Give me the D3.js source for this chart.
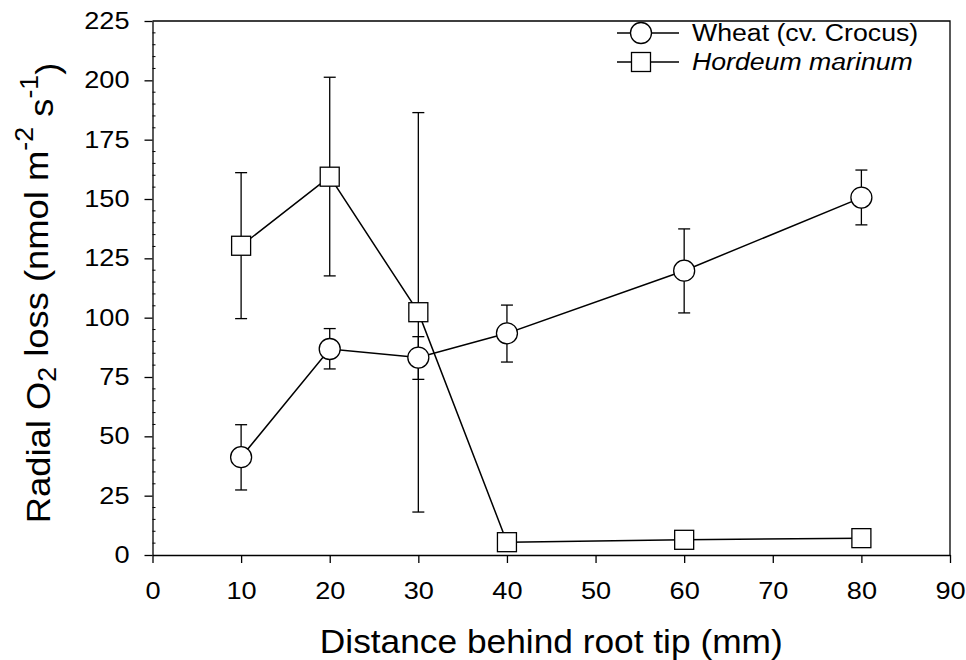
<!DOCTYPE html>
<meta charset="utf-8">
<style>
    body {
        margin: 0;
        padding: 0;
        background: #fff;
        font-family: "Liberation Sans", Arial, sans-serif;
    }

    svg {
        display: block;
    }

    .axis path,
    .axis line {
        stroke: #000;
        stroke-width: 1.3px;
    }

    .axis text {
        font-family: "Liberation Sans", Arial, sans-serif;
        font-size: 23px;
        fill: #000;
    }
</style>
<svg width="966" height="660"></svg>
<script src="https://cdnjs.cloudflare.com/ajax/libs/d3/7.8.5/d3.min.js"></script>
<script>
    // values
    var distance = [10, 20, 30, 40, 60, 80];
    var wheatMean = [41.2, 86.8, 83.2, 93.4, 119.8, 150.6];
    var wheatLow = [27.4, 78.4, 74.0, 81.3, 102.0, 139.1];
    var wheatHigh = [54.9, 95.4, 92.0, 105.3, 137.4, 162.2];
    var hordeumMean = [130.3, 159.4, 102.3, 5.4, 6.4, 7.1];
    var hordeumLow = [99.6, 117.6, 18.1, null, null, null];
    var hordeumHigh = [161.1, 201.3, 186.4, null, null, null];

    var xTicks = [0, 10, 20, 30, 40, 50, 60, 70, 80, 90];
    var yTicks = [0, 25, 50, 75, 100, 125, 150, 175, 200, 225];
    var yMinor = d3.range(0, 226, 5).filter(function(v) { return v % 25 != 0; });

    var svg = d3.select("svg");
    var plotL = 152.5, plotR = 950, plotT = 21, plotB = 555;
    var stretch = 1.18; // the original type is a little wider than Liberation Sans

    var x = d3.scaleLinear().domain([0, 90]).range([plotL, plotR]);
    var y = d3.scaleLinear().domain([0, 225]).range([plotB, plotT]);

    // frame (top + right)
    svg.append("path")
        .attr("d", "M" + plotL + "," + plotT + "H" + plotR + "V" + plotB)
        .attr("fill", "none")
        .attr("stroke", "#000")
        .attr("stroke-width", 1.3);

    var xAxis = svg.append("g")
        .attr("class", "axis")
        .attr("transform", "translate(0," + plotB + ")")
        .call(d3.axisBottom(x).tickValues(xTicks).tickSize(8).tickSizeOuter(0).tickPadding(20));
    xAxis.selectAll("text").attr("transform", "scale(" + stretch + ",1)");

    var yAxis = svg.append("g")
        .attr("class", "axis")
        .attr("transform", "translate(" + plotL + ",0)")
        .call(d3.axisLeft(y).tickValues(yTicks).tickSize(8).tickSizeOuter(0).tickPadding(15));
    yAxis.selectAll("text")
        .attr("x", -23 / stretch)
        .attr("transform", "scale(" + stretch + ",1)");

    // minor ticks inside the left axis
    svg.append("g")
        .selectAll("line")
        .data(yMinor)
        .enter().append("line")
        .attr("x1", plotL)
        .attr("x2", plotL + 3)
        .attr("y1", function(d) { return y(d); })
        .attr("y2", function(d) { return y(d); })
        .attr("stroke", "#000")
        .attr("stroke-width", 1);

    function makeRows(mean, low, high) {
        return distance.map(function(d, i) {
            return { x: d, v: mean[i], lo: low[i], hi: high[i] };
        });
    }

    var wheat = makeRows(wheatMean, wheatLow, wheatHigh);
    var hordeum = makeRows(hordeumMean, hordeumLow, hordeumHigh);

    var line = d3.line()
        .x(function(d) { return x(d.x); })
        .y(function(d) { return y(d.v); });

    function drawErrors(rows) {
        var g = svg.append("g")
            .attr("stroke", "#000")
            .attr("stroke-width", 1.3);
        var rs = rows.filter(function(d) { return d.lo != null; });
        g.selectAll(null).data(rs).enter().append("line")
            .attr("x1", function(d) { return x(d.x); })
            .attr("x2", function(d) { return x(d.x); })
            .attr("y1", function(d) { return y(d.lo); })
            .attr("y2", function(d) { return y(d.hi); });
        [function(d) { return d.lo; }, function(d) { return d.hi; }].forEach(function(f) {
            g.selectAll(null).data(rs).enter().append("line")
                .attr("x1", function(d) { return x(d.x) - 6; })
                .attr("x2", function(d) { return x(d.x) + 6; })
                .attr("y1", function(d) { return y(f(d)); })
                .attr("y2", function(d) { return y(f(d)); });
        });
    }

    function drawLine(rows) {
        svg.append("path")
            .datum(rows)
            .attr("d", line)
            .attr("fill", "none")
            .attr("stroke", "#000")
            .attr("stroke-width", 1.5);
    }

    drawErrors(hordeum);
    drawErrors(wheat);
    drawLine(hordeum);
    drawLine(wheat);

    svg.append("g").selectAll("rect")
        .data(hordeum)
        .enter().append("rect")
        .attr("x", function(d) { return x(d.x) - 9.5; })
        .attr("y", function(d) { return y(d.v) - 9.5; })
        .attr("width", 19)
        .attr("height", 19)
        .attr("fill", "#fff")
        .attr("stroke", "#000")
        .attr("stroke-width", 1.3);

    svg.append("g").selectAll("circle")
        .data(wheat)
        .enter().append("circle")
        .attr("cx", function(d) { return x(d.x); })
        .attr("cy", function(d) { return y(d.v); })
        .attr("r", 10.5)
        .attr("fill", "#fff")
        .attr("stroke", "#000")
        .attr("stroke-width", 1.3);

    // legend
    var legend = svg.append("g").attr("transform", "translate(617,0)");
    var legendRows = [
        { y: 33, label: "Wheat (cv. Crocus)", italic: false, shape: "circle" },
        { y: 62, label: "Hordeum marinum", italic: true, shape: "square" }
    ];
    legendRows.forEach(function(r) {
        legend.append("line")
            .attr("x1", 0).attr("x2", 62)
            .attr("y1", r.y).attr("y2", r.y)
            .attr("stroke", "#000").attr("stroke-width", 1.5);
        if (r.shape == "circle") {
            legend.append("circle")
                .attr("cx", 24).attr("cy", r.y).attr("r", 10.5)
                .attr("fill", "#fff").attr("stroke", "#000").attr("stroke-width", 1.3);
        } else {
            legend.append("rect")
                .attr("x", 24 - 9.5).attr("y", r.y - 9.5).attr("width", 19).attr("height", 19)
                .attr("fill", "#fff").attr("stroke", "#000").attr("stroke-width", 1.3);
        }
        legend.append("text")
            .attr("transform", "translate(75," + r.y + ") scale(1.16,1)")
            .attr("dy", "0.35em")
            .style("font-size", "23px")
            .style("font-style", r.italic ? "italic" : "normal")
            .text(r.label);
    });

    // axis titles
    svg.append("text")
        .attr("transform", "translate(" + ((plotL + plotR) / 2) + ",653) scale(1.07,1)")
        .attr("text-anchor", "middle")
        .style("font-size", "33px")
        .text("Distance behind root tip (mm)");

    var yt = svg.append("text")
        .attr("transform", "translate(50," + ((plotT + plotB) / 2 + 5) + ") rotate(-90) scale(1.07,1)")
        .attr("text-anchor", "middle")
        .style("font-size", "34px");
    yt.append("tspan").text("Radial O");
    yt.append("tspan").attr("dy", "0.25em").style("font-size", "25px").text("2");
    yt.append("tspan").attr("dy", "-0.25em").text(" loss (nmol m");
    yt.append("tspan").attr("dy", "-0.6em").style("font-size", "25px").text("-2");
    yt.append("tspan").attr("dy", "0.6em").text(" s");
    yt.append("tspan").attr("dy", "-0.6em").style("font-size", "25px").text("-1");
    yt.append("tspan").attr("dy", "0.6em").text(")");
</script>
